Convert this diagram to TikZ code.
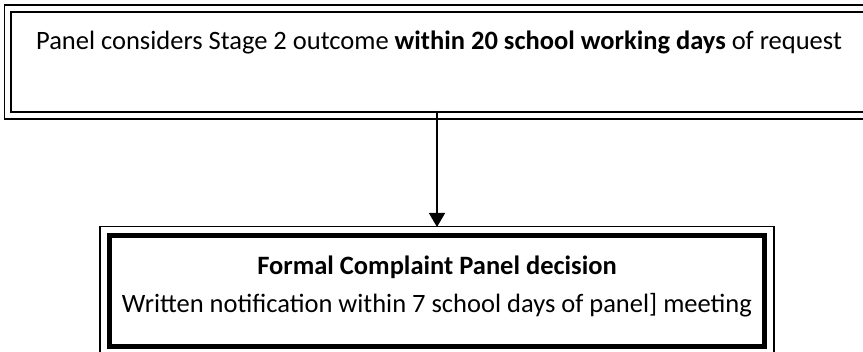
\documentclass[tikz,border=0pt]{standalone}
\usepackage{fontspec}
\setmainfont{Carlito}
\usetikzlibrary{arrows.meta}
\begin{document}
\begin{tikzpicture}[x=1pt,y=-1pt,
  txt/.style={inner sep=0pt,anchor=base,font=\fontsize{26.5}{30}\selectfont},
  thinline/.style={line width=1.2pt},
  thickline/.style={line width=2.4pt},
  heavyline/.style={line width=5pt},
  conn/.style={line width=1.6pt,-{Triangle[length=14pt,width=16pt]}}]
\useasboundingbox (0,0) rectangle (863,352);
% top box (right side runs off the page)
\draw[thinline] (880,5) -- (4.5,5) -- (4.5,119) -- (880,119);
\draw[thickline] (880,12) -- (11,12) -- (11,112) -- (880,112);
\node[txt] (top) at (439,50) {Panel considers Stage 2 outcome \textbf{within 20 school working days} of request};
\coordinate (topb) at (437,111);
% bottom box
\draw[thinline] (100,226.5) rectangle (774,358);
\draw[heavyline] (109.5,235.5) rectangle (764.5,346.5);
\node[txt] (t1) at (437,275) {\textbf{Formal Complaint Panel decision}};
\node[txt] (t2) at (437,313) {Written notification within 7 school days of panel] meeting};
\coordinate (botb) at (437,227);
\draw[conn] (topb) -- (botb);
\end{tikzpicture}
\end{document}
